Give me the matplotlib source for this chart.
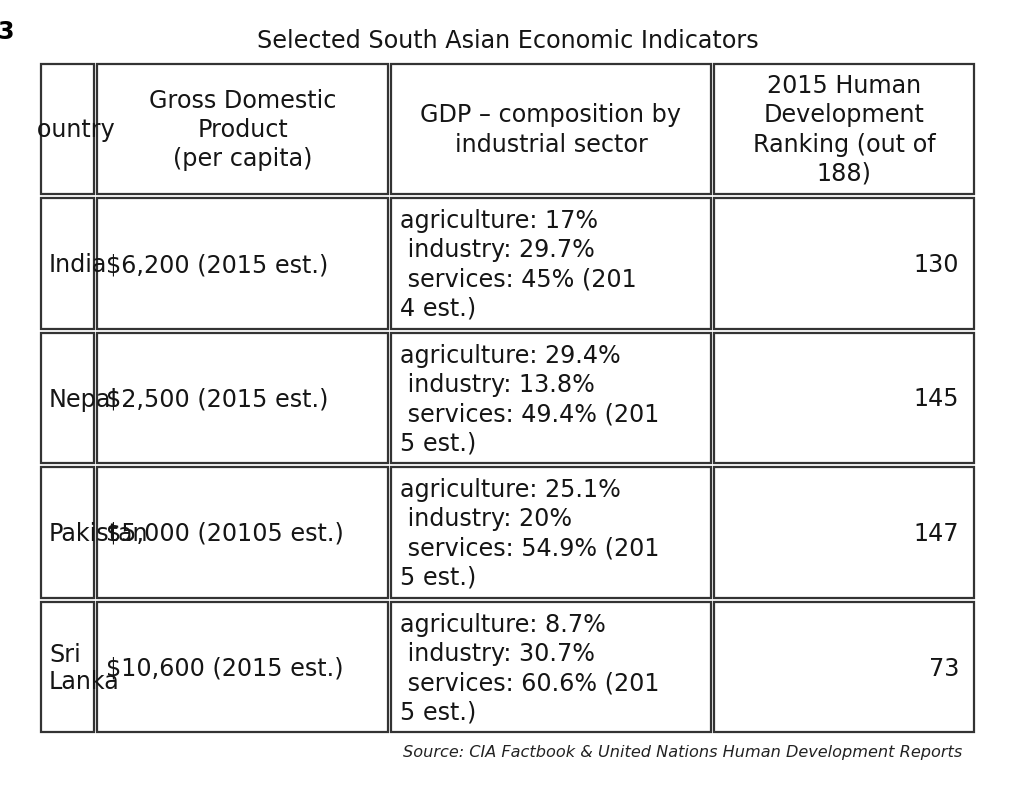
import matplotlib.pyplot as plt
from matplotlib.patches import Rectangle
from matplotlib.transforms import Bbox

countries = ["India", "Nepal", "Pakistan", "Sri\nLanka"]
gdp = ["$6,200 (2015 est.)", "$2,500 (2015 est.)", "$5,000 (20105 est.)", "$10,600 (2015 est.)"]
agriculture = ["17", "29.4", "25.1", "8.7"]
industry = ["29.7", "13.8", "20", "30.7"]
services = ["45", "49.4", "54.9", "60.6"]
est_year = ["2014", "2015", "2015", "2015"]
hdi_rank = [130, 145, 147, 73]
headers = ["Country", "Gross Domestic\nProduct\n(per capita)",
           "GDP \u2013 composition by\nindustrial sector",
           "2015 Human\nDevelopment\nRanking (out of\n188)"]

W, H = 1023, 785
fig = plt.figure(figsize=(W / 100, H / 100), dpi=100)
ax = fig.add_axes([0, 0, 1, 1])
ax.set_xlim(0, W)
ax.set_ylim(H, 0)
ax.axis("off")

col_edges = [(41, 94), (97, 388), (391, 711), (714, 974)]
row_edges = [(64, 194), (198, 329), (333, 463), (467, 598), (602, 732)]
fs = 17.2
ls = 1.27
ink = "#151515"

for (y0, y1) in row_edges:
    for (x0, x1) in col_edges:
        ax.add_patch(Rectangle((x0, y0), x1 - x0, y1 - y0, fill=False,
                               ec="#333333", lw=1.6))

ax.text(508, 41, "Selected South Asian Economic Indicators", ha="center",
        va="center", fontsize=fs, color=ink)
ax.text(-3, 32, "3", ha="left", va="center", fontsize=17, fontweight="bold")

# header row
hy = (row_edges[0][0] + row_edges[0][1]) / 2 + 1
for i, h in enumerate(headers):
    cx = (col_edges[i][0] + col_edges[i][1]) / 2
    t = ax.text(cx, hy, h, ha="center", va="center", fontsize=fs,
                linespacing=ls, multialignment="center", color=ink)
    if i == 0:
        # the reference hides the first letter left of the table
        t.set_clip_on(True)
        t.set_clip_box(Bbox.from_extents(37, 0, W, H))

for r in range(len(countries)):
    y0, y1 = row_edges[r + 1]
    cy = (y0 + y1) / 2 + 1.5
    ax.text(49, cy, countries[r], ha="left", va="center", fontsize=fs,
            linespacing=1.2, color=ink)
    ax.text(106, cy, gdp[r], ha="left", va="center", fontsize=fs, color=ink)
    comp = (f"agriculture: {agriculture[r]}%\n industry: {industry[r]}%\n"
            f" services: {services[r]}% ({est_year[r][:3]}\n{est_year[r][3:]} est.)")
    ax.text(400, cy, comp, ha="left", va="center", fontsize=fs,
            linespacing=ls, color=ink)
    ax.text(959, cy, str(hdi_rank[r]), ha="right", va="center", fontsize=fs,
            color=ink)

ax.text(962, 752, "Source: CIA Factbook & United Nations Human Development Reports",
        ha="right", va="center", fontsize=11.6, style="italic", color="#222222")

fig.savefig("out.png", dpi=100)
